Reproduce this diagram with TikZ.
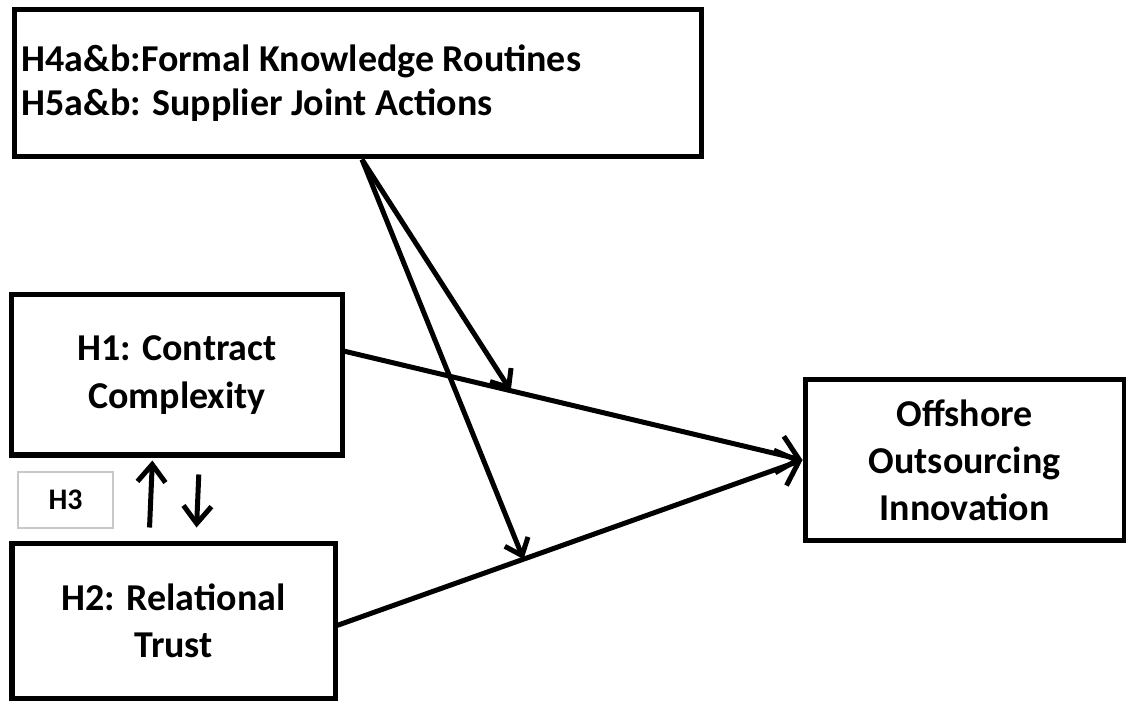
\documentclass[tikz,border=0pt]{standalone}
\usepackage{fontspec}
\setmainfont{Carlito}
\usepackage{tikz}
\definecolor{hthreegray}{RGB}{200,200,200}
\usetikzlibrary{arrows.meta,positioning,calc}

\begin{document}
\begin{tikzpicture}
    \tikzstyle{construct} = [rectangle, draw=black, line width=0.1cm, align=center,
                             font=\fontsize{21.6}{26.8}\selectfont\bfseries]
    \tikzstyle{hlabel} = [rectangle, draw=hthreegray, line width=0.6pt, minimum width=1.9cm,
                          minimum height=1.12cm, font=\fontsize{17}{20}\selectfont\bfseries]
    \tikzstyle{effect} = [line width=0.1cm, -{Straight Barb[length=0.4cm, width=0.75cm]}]
    \tikzstyle{moderate} = [line width=0.1cm, -{Straight Barb[length=0.3cm, width=0.5cm]}]
    \tikzstyle{link} = [line width=0.1cm, -{Straight Barb[length=0.35cm, width=0.56cm]}]

    \clip (0,0) rectangle (22.52,-14.04);
    \useasboundingbox (0,0) rectangle (22.52,-14.04);

    % Moderators
    \node[construct, align=flush left, text width=13.46cm, inner xsep=0.14cm,
          font=\fontsize{21.6}{25}\selectfont\bfseries,
          minimum height=2.94cm] (mod) at (7.16,-1.67)
          {H4a\&b:Formal Knowledge Routines\\H5a\&b: Supplier Joint Actions};

    % Antecedents
    \node[construct, minimum width=6.6cm, minimum height=3.2cm] (h1) at (3.54,-7.5)
          {H1: Contract\\Complexity};
    \node[construct, minimum width=6.46cm, minimum height=3.1cm] (h2) at (3.47,-12.41)
          {H2: Relational\\Trust};
    \node[hlabel] (h3) at (1.31,-10.0) {H3};

    % Outcome
    \node[construct, minimum width=6.38cm, minimum height=3.2cm] (out) at (19.29,-9.2)
          {Offshore\\Outsourcing\\Innovation};

    % Direct effects
    \coordinate (h1start) at ($(h1.north east)!0.356!(h1.south east)$);
    \coordinate (h2start) at ($(h2.north east)!0.53!(h2.south east)$);
    \draw[effect] (h1start) -- (out.west);
    \draw[effect] (h2start) -- (out.west);

    % Moderating effects
    \coordinate (m1) at ($(h1start)!0.363!(out.west)$);
    \coordinate (m2) at ($(h2start)!0.40!(out.west)$);
    \draw[moderate] ([xshift=0.08cm]mod.south) -- (m1);
    \draw[moderate] ([xshift=0.08cm]mod.south) -- (m2);

    % H3 reciprocal link
    \draw[link, shorten <=0.26cm, shorten >=0.06cm] ([xshift=-0.49cm]h2.north) -- ([xshift=-0.49cm]h1.south);
    \draw[link, shorten <=0.34cm, shorten >=0.26cm] ([xshift=0.45cm]h1.south) -- ([xshift=0.45cm]h2.north);
\end{tikzpicture}
\end{document}
